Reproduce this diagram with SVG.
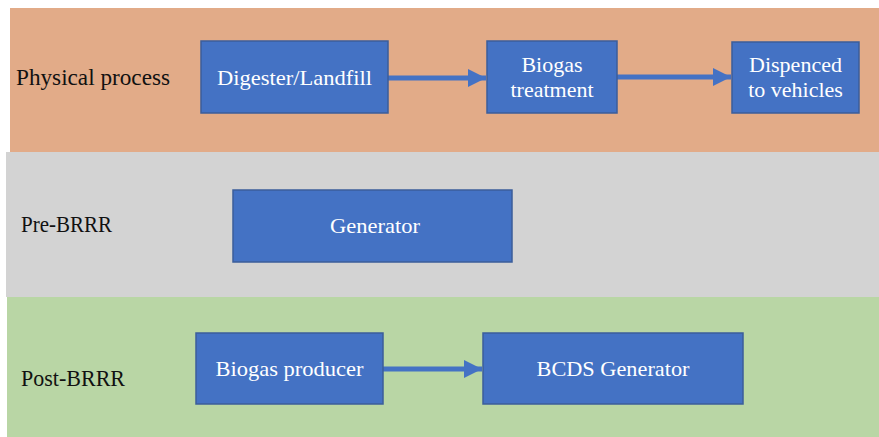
<svg xmlns="http://www.w3.org/2000/svg" width="879" height="437" viewBox="0 0 879 437">
<style>
.lbl{font-family:"Liberation Serif","Times New Roman",serif;font-size:23px;fill:#111}
.box{fill:#4472C4;stroke:#3B5E9A;stroke-width:1.5}
.bt{font-family:"Liberation Serif","Times New Roman",serif;font-size:22px;fill:#fff;text-anchor:middle}
.con{stroke:#4472C4;stroke-width:5;fill:none;marker-end:url(#ah)}
</style>
<defs>
<marker id="ah" markerWidth="4" markerHeight="4" refX="3.6" refY="2" orient="auto" markerUnits="strokeWidth">
<path d="M0,0.2 L3.6,2 L0,3.8 Z" fill="#4472C4"/>
</marker>
</defs>
<rect width="879" height="437" fill="#fff"/>
<rect x="10" y="8" width="869" height="144" fill="#E2AB88"/>
<rect x="6" y="152" width="873" height="145" fill="#D3D3D3"/>
<rect x="7" y="297" width="872" height="140" fill="#B9D6A5"/>
<text class="lbl" x="16" y="85" textLength="154" lengthAdjust="spacingAndGlyphs">Physical process</text>
<text class="lbl" x="21" y="232" textLength="91" lengthAdjust="spacingAndGlyphs">Pre-BRRR</text>
<text class="lbl" x="21" y="386" textLength="104" lengthAdjust="spacingAndGlyphs">Post-BRRR</text>
<g id="connectors">
<line class="con" x1="388" y1="78" x2="486" y2="78"/>
<line class="con" x1="617" y1="77" x2="731" y2="77"/>
<line class="con" x1="383" y1="369" x2="482" y2="369"/>
</g>
<g id="n-digester"><rect class="box" x="201" y="41" width="187" height="72"/><text class="bt" x="294.5" y="85" textLength="155" lengthAdjust="spacingAndGlyphs">Digester/Landfill</text></g>
<g id="n-treatment"><rect class="box" x="487" y="41" width="130" height="72"/><text class="bt" x="552" y="72">Biogas</text><text class="bt" x="552" y="97">treatment</text></g>
<g id="n-dispenced"><rect class="box" x="732" y="42" width="127" height="71"/><text class="bt" x="795.5" y="72">Dispenced</text><text class="bt" x="795.5" y="97">to vehicles</text></g>
<g id="n-generator"><rect class="box" x="233" y="190" width="279" height="72"/><text class="bt" x="375" y="233" textLength="90" lengthAdjust="spacingAndGlyphs">Generator</text></g>
<g id="n-producer"><rect class="box" x="196" y="333" width="187" height="71"/><text class="bt" x="289.5" y="376" textLength="148" lengthAdjust="spacingAndGlyphs">Biogas producer</text></g>
<g id="n-bcds"><rect class="box" x="483" y="333" width="260" height="71"/><text class="bt" x="613" y="376" textLength="153" lengthAdjust="spacingAndGlyphs">BCDS Generator</text></g>
</svg>
